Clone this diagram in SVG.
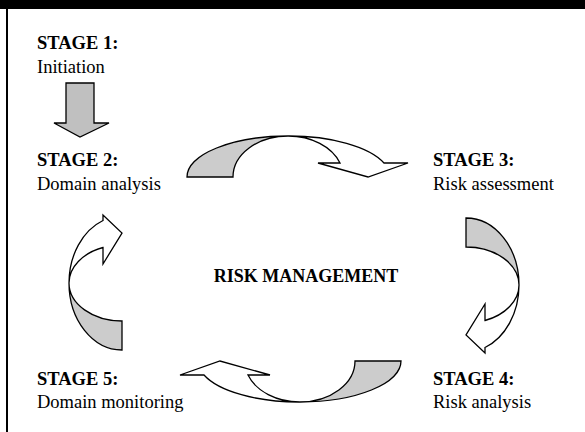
<svg xmlns="http://www.w3.org/2000/svg" xmlns:xlink="http://www.w3.org/1999/xlink" width="585" height="432" viewBox="0 0 585 432">
<style>
text{font-family:"Liberation Serif","Times New Roman",serif;font-size:18.5px;fill:#000}
.b{font-weight:bold}
.ol{stroke:#000;stroke-width:1.3;stroke-linejoin:miter}
.g{fill:#cccccc}
.w{fill:#ffffff}
</style>
<defs>
<g id="hArrow">
<path class="ol g" d="M187,177 A101,41 0 0 1 288,136 A55,41 0 0 0 233,177 Z"/>
<path class="ol w" d="M288,136 A101,41 0 0 1 384,163 L408,163 L368,177 L318,163 L340,163 A55,41 0 0 0 288,136 Z"/>
</g>
<g id="vArrow">
<path class="ol g" d="M466,218 A53,67 0 0 1 519,285 A53,38 0 0 0 466,247 Z"/>
<path class="ol w" d="M519,285 A53,67 0 0 1 485,347.5 L485,353 L466,335 L485,304 L485,320.5 A53,38 0 0 0 519,285 Z"/>
</g>
</defs>
<rect x="0" y="0" width="585" height="432" fill="#fff"/>
<rect x="0" y="0" width="585" height="9" fill="#000"/>
<rect x="6" y="9" width="2" height="423" fill="#000"/>

<g id="stage1">
<text class="b" x="37" y="49">STAGE 1:</text>
<text x="37" y="73">Initiation</text>
</g>
<g id="stage2">
<text class="b" x="37" y="166">STAGE 2:</text>
<text x="37" y="190">Domain analysis</text>
</g>
<g id="stage3">
<text class="b" x="433" y="166">STAGE 3:</text>
<text x="433" y="190">Risk assessment</text>
</g>
<g id="stage4">
<text class="b" x="433" y="385">STAGE 4:</text>
<text x="433" y="408">Risk analysis</text>
</g>
<g id="stage5">
<text class="b" x="37" y="385">STAGE 5:</text>
<text x="37" y="408">Domain monitoring</text>
</g>
<g id="center">
<text class="b" x="306" y="282" text-anchor="middle" style="font-size:18px">RISK MANAGEMENT</text>
</g>

<g id="connectors">
<path class="ol" fill="#c0c0c0" d="M66,83 L94,83 L94,123 L109,123 L80,137 L54,123 L66,123 Z"/>
<use xlink:href="#hArrow"/>
<use xlink:href="#vArrow"/>
<use xlink:href="#hArrow" transform="rotate(180 294 269)"/>
<use xlink:href="#vArrow" transform="rotate(180 294 284)"/>
</g>
</svg>
